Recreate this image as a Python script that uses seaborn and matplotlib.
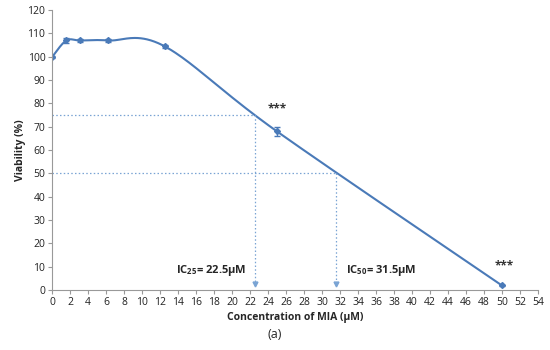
import matplotlib
matplotlib.use("Agg")
import matplotlib.pyplot as plt
import numpy as np
import pandas as pd
import seaborn as sns

# measured points
conc = [0, 1.5625, 3.125, 6.25, 12.5, 25, 50]
viability = [100, 107, 107, 107, 104.5, 68, 2]
err = [0.4, 1.0, 0.5, 0.5, 0.6, 2.0, 0.4]
ic_values = [22.5, 31.5]
ic_levels = [75, 50]
ic_labels = [r"IC$_{\mathbf{25}}$= 22.5μM", r"IC$_{\mathbf{50}}$= 31.5μM"]
star_x = [25, 50.3]
star_y = [77.5, 10.5]

LINE = "#4a7ab8"
DASH = "#7aa4d4"


def smooth(xs, ys, n=40):
    # Excel style smoothed line (Catmull-Rom as cubic Bezier)
    p = np.column_stack([xs, ys]).astype(float)
    p = np.vstack([p[0], p, p[-1]])
    out = []
    for i in range(1, len(p) - 2):
        p0, p1, p2, p3 = p[i - 1], p[i], p[i + 1], p[i + 2]
        c1 = p1 + (p2 - p0) / 6
        c2 = p2 - (p3 - p1) / 6
        t = np.linspace(0, 1, n)[:, None]
        seg = ((1 - t) ** 3) * p1 + 3 * ((1 - t) ** 2) * t * c1 + 3 * (1 - t) * t ** 2 * c2 + t ** 3 * p2
        out.append(seg)
    out = np.vstack(out)
    return out[:, 0], out[:, 1]


sns.set_style("ticks")
plt.rcParams["font.family"] = ["Open Sans", "DejaVu Sans"]
plt.rcParams["mathtext.fontset"] = "custom"
plt.rcParams["mathtext.bf"] = "Open Sans:bold"
plt.rcParams["mathtext.rm"] = "Open Sans:bold"

fig = plt.figure(figsize=(5.5, 3.5), dpi=100)
ax = fig.add_axes([0.095, 0.171, 0.883, 0.8])

sx, sy = smooth(conc, viability)
curve = pd.DataFrame({"x": sx, "y": sy})
sns.lineplot(data=curve, x="x", y="y", ax=ax, color=LINE, lw=1.5, sort=False, estimator=None)
ax.errorbar(conc, viability, yerr=err, fmt="D", ms=3, color=LINE, ecolor=LINE,
            elinewidth=1, capsize=2)

for xv, yv, lab, side in zip(ic_values, ic_levels, ic_labels, ["right", "left"]):
    ax.plot([0, xv], [yv, yv], ls=(0, (1.2, 1.8)), color=DASH, lw=0.9)
    ax.plot([xv, xv], [yv, 3.5], ls=(0, (1.2, 1.8)), color=DASH, lw=0.9)
    ax.plot([xv], [2.8], marker="v", ms=3.5, color=DASH)
    tx = xv - 0.9 if side == "right" else xv + 1.2
    ax.text(tx, 8.5, lab, ha=side, va="center", fontsize=8, fontweight="bold")

for xv, yv in zip(star_x, star_y):
    ax.text(xv, yv, "***", ha="center", va="center", fontsize=8.5, fontweight="bold", color="#333333")

ax.set_xlim(0, 54)
ax.set_ylim(0, 120)
ax.set_xticks(np.arange(0, 55, 2))
ax.set_yticks(np.arange(0, 121, 10))
ax.tick_params(labelsize=7.5, length=3, color="#999999", labelcolor="#222222", pad=2)
sns.despine(ax=ax)
for s in ["left", "bottom"]:
    ax.spines[s].set_color("#999999")
    ax.spines[s].set_linewidth(0.8)
ax.set_xlabel("Concentration of MIA (μM)", fontsize=7.5, fontweight="bold", labelpad=3)
ax.set_ylabel("Viability (%)", fontsize=7.5, fontweight="bold", labelpad=1)
fig.text(0.5, 0.043, "(a)", ha="center", va="center", fontsize=9)

fig.savefig("out.png", dpi=100)
